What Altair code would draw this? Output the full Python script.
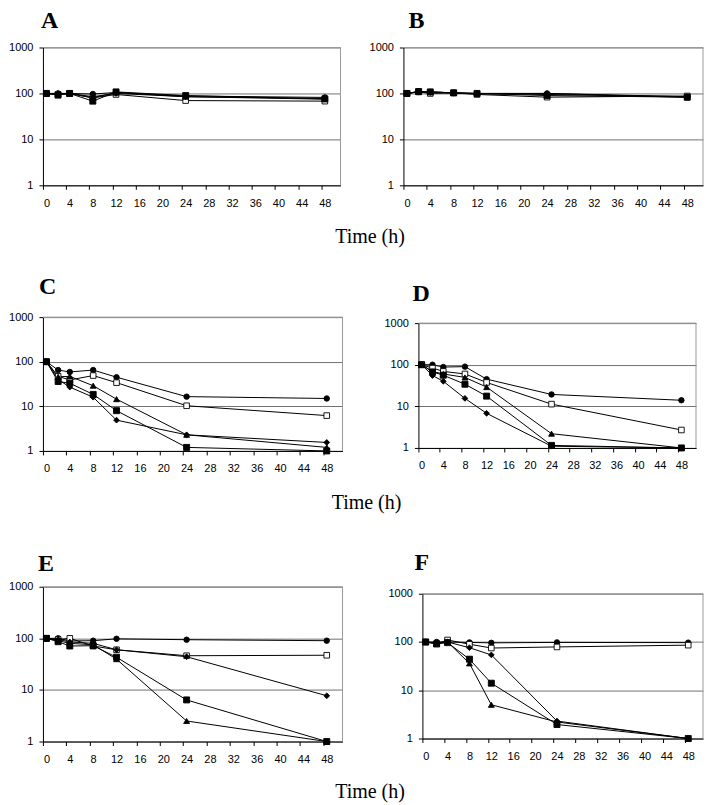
import altair as alt
import pandas as pd

times = [0, 2, 4, 8, 12, 24, 48]
series = ["circle", "open_square", "diamond", "triangle", "square"]

# Panel A
A_circle = [100, 100, 100, 97, 105, 88, 82]
A_open_square = [100, 95, 100, 80, 95, 70, 68]
A_diamond = [100, 100, 100, 85, 100, 85, 75]
A_triangle = [100, 95, 100, 80, 105, 85, 78]
A_square = [100, 92, 100, 68, 108, 90, 76]
# Panel B
B_circle = [100, 110, 108, 103, 100, 100, 85]
B_open_square = [100, 108, 100, 103, 95, 83, 88]
B_diamond = [100, 108, 105, 102, 98, 95, 85]
B_triangle = [100, 110, 108, 103, 100, 100, 82]
B_square = [100, 110, 108, 103, 100, 90, 83]
# Panel C
C_circle = [100, 65, 59, 65, 45, 16.5, 15]
C_open_square = [100, 47, 39, 49, 34, 10.3, 6.2]
C_diamond = [100, 40, 27, 16, 4.9, 2.3, 1.55]
C_triangle = [100, 46, 47, 29, 14.5, 2.3, 1.2]
C_square = [100, 36, 33, 18.5, 8.0, 1.2, 1.0]
# Panel D
D_circle = [100, 100, 88, 90, 45, 19.3, 14]
D_open_square = [100, 83, 69, 60, 37.5, 11.3, 2.7]
D_diamond = [100, 55, 40, 15.5, 6.8, 1.1, 1.0]
D_triangle = [100, 69, 60, 49.5, 29, 2.2, 1.0]
D_square = [100, 67, 56, 34, 17.6, 1.15, 1.0]
# Panel E
E_circle = [100, 100, 89, 90, 98, 94, 90]
E_open_square = [100, 95, 100, 71, 60, 46, 47]
E_diamond = [100, 95, 85, 80, 60, 44, 7.7]
E_triangle = [100, 90, 80, 75, 39.5, 2.5, 1.0]
E_square = [100, 86, 71, 72, 43, 6.4, 1.0]
# Panel F
F_circle = [100, 100, 100, 98, 96, 98, 97]
F_open_square = [100, 92, 110, 90, 75, 79, 86]
F_diamond = [100, 95, 100, 76, 54, 2.3, 1.0]
F_triangle = [100, 95, 100, 36, 5.0, 2.2, 1.0]
F_square = [100, 91, 97, 44, 14, 1.95, 1.0]

panel_data = {
    "A": [A_circle, A_open_square, A_diamond, A_triangle, A_square],
    "B": [B_circle, B_open_square, B_diamond, B_triangle, B_square],
    "C": [C_circle, C_open_square, C_diamond, C_triangle, C_square],
    "D": [D_circle, D_open_square, D_diamond, D_triangle, D_square],
    "E": [E_circle, E_open_square, E_diamond, E_triangle, E_square],
    "F": [F_circle, F_open_square, F_diamond, F_triangle, F_square],
}

rows = []
for p, lists in panel_data.items():
    for s, vals in zip(series, lists):
        for t, v in zip(times, vals):
            rows.append({"panel": p, "series": s, "time": t, "value": v})
df = pd.DataFrame(rows)

x_ticks = list(range(0, 49, 4))
y_ticks = [1, 10, 100, 1000]

shape_scale = alt.Scale(domain=series, range=["circle", "square", "diamond", "triangle-up", "square"])
fill_scale = alt.Scale(domain=series, range=["black", "white", "black", "black", "black"])
size_scale = alt.Scale(domain=series, range=[30, 36, 20, 28, 36])


def panel(letter, w, h, toff, tdy=0, tdx=0, top=0):
    d = df[df.panel == letter]
    base = alt.Chart(d)
    x = alt.X("time:Q",
              scale=alt.Scale(domain=[-0.6, 50.7], nice=False, zero=False),
              axis=alt.Axis(values=x_ticks, title=None, grid=False, labelFontSize=11,
                            labelFont="Liberation Sans", labelColor="black",
                            domainColor="black", tickColor="black", tickSize=4,
                            tickOffset=-3.5, labelOffset=3.5,
                            labelPadding=8, labelFlush=False))
    y = alt.Y("value:Q",
              scale=alt.Scale(type="log", domain=[1, 1000], nice=False, range=[h + top, top]),
              axis=alt.Axis(values=y_ticks, title=None, grid=True, gridColor="#707070",
                            gridWidth=1, labelFontSize=11, labelFont="Liberation Sans",
                            labelColor="black", domainColor="black", tickColor="black",
                            tickSize=4, labelPadding=6, format="d"))
    border = alt.Chart(pd.DataFrame({"v": [0]})).mark_rule(color="#9a9a9a", strokeWidth=1).encode(
        x=alt.value(w), y=alt.value(top), y2=alt.value(h + top))
    topline = alt.Chart(pd.DataFrame({"v": [0]})).mark_rule(color="#9a9a9a", strokeWidth=1).encode(
        x=alt.value(0), x2=alt.value(w), y=alt.value(top))
    line = base.mark_line(color="black", strokeWidth=1).encode(
        x=x, y=y, detail="series:N")
    pts = base.mark_point(stroke="black", strokeWidth=0.9, opacity=1, fillOpacity=1).encode(
        x=x, y=y,
        shape=alt.Shape("series:N", scale=shape_scale, legend=None),
        fill=alt.Fill("series:N", scale=fill_scale, legend=None),
        size=alt.Size("series:N", scale=size_scale, legend=None),
    )
    return alt.layer(border, topline, line, pts).properties(
        width=w, height=h + top,
        title=alt.TitleParams(letter, anchor="start", frame="group", font="Liberation Serif",
                              fontSize=24, fontWeight="bold", color="black",
                              offset=toff, dy=tdy, dx=tdx),
    )


def row_title(offset, extra=None):
    kw = dict(text="Time (h)", orient="bottom", anchor="middle", font="Liberation Serif",
              fontSize=20, fontWeight="normal", color="black", offset=offset, dx=14)
    if extra:
        kw.update(subtitle=" ", subtitleFontSize=extra, subtitlePadding=0)
    return alt.TitleParams(**kw)


row1 = alt.hconcat(panel("A", 298, 138, 9, 0, -2), panel("B", 300, 138, 9, 0, 5),
                   spacing=27).properties(title=row_title(19, 4))
row2 = alt.hconcat(panel("C", 300, 134, 12, 0, -4), panel("D", 278, 125, 12, 1, -6, top=6),
                   spacing=40).properties(title=row_title(19, 14))
row3 = alt.hconcat(panel("E", 300, 155, 5, 0, -5), panel("F", 281, 145, 12, 0, -8, top=7),
                   spacing=44).properties(title=row_title(18))

chart = alt.vconcat(row1, row2, row3, spacing=24).configure(
    padding=0, background="white"
).configure_view(stroke=None)

chart.save("out.html", embed_options={"renderer": "svg", "actions": False})
